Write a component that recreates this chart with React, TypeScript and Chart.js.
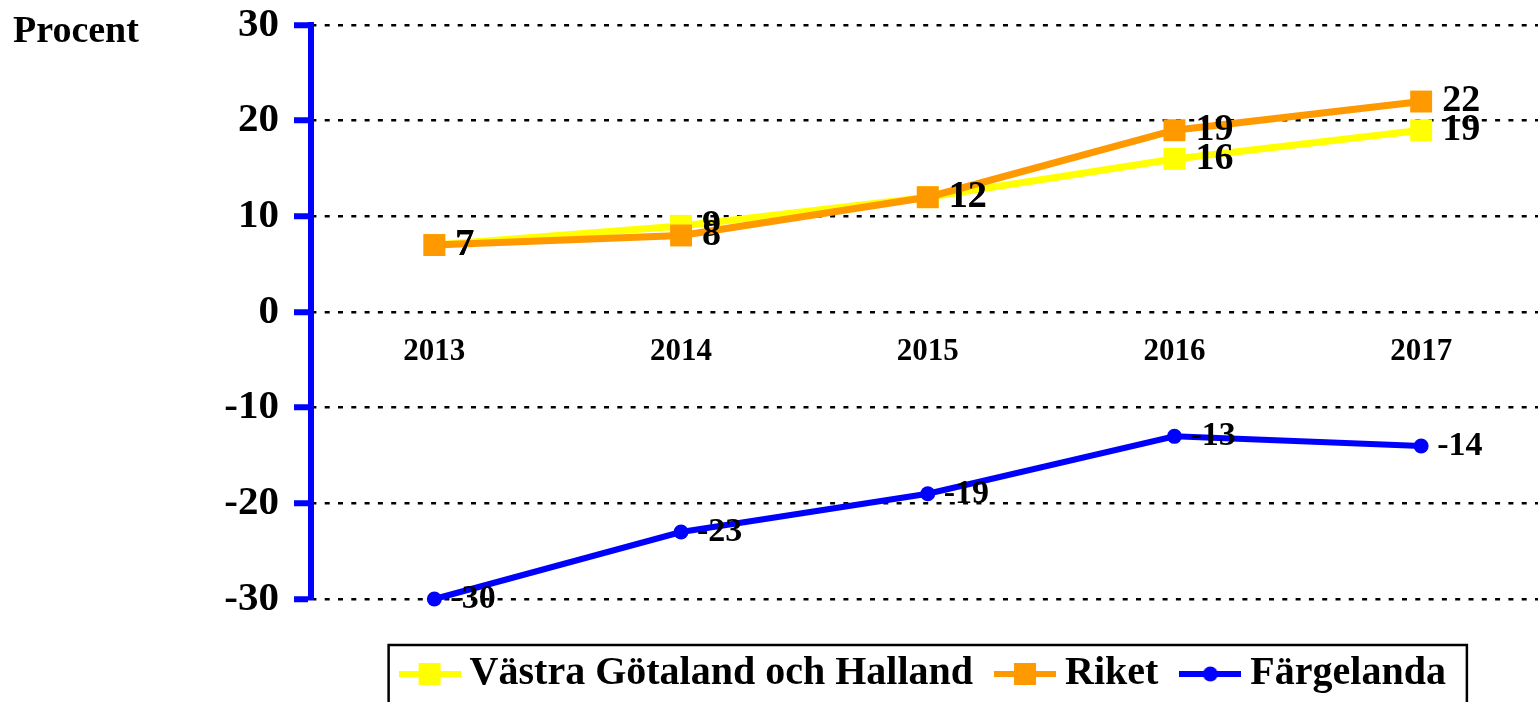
import React, { useEffect, useRef } from "react";
import { Chart, registerables } from "chart.js";

Chart.register(...registerables);

// ---- data ----
const years = ["2013", "2014", "2015", "2016", "2017"];
const vastraGotalandHalland = [7, 9, 12, 16, 19];
const riket = [7, 8, 12, 19, 22];
const fargelanda = [-30, -23, -19, -13, -14];
const seriesNames = ["Västra Götaland och Halland", "Riket", "Färgelanda"];
const yMin = -30;
const yMax = 30;
const yStep = 10;
const axisTitle = "Procent";

// ---- styles ----
const SERIF = '"Liberation Serif", "Times New Roman", Times, serif';
const YELLOW = "#FFFF00";
const ORANGE = "#FF9900";
const BLUE = "#0000FF";
const seriesColors = [YELLOW, ORANGE, BLUE];
const seriesMarkers: ("rect" | "circle")[] = ["rect", "rect", "circle"];
const labelStyles = [
  { size: 38, dx: 21 },
  { size: 38, dx: 21 },
  { size: 34, dx: 16 },
];

const CANVAS_W = 1560;
const CANVAS_H = 708;

function makeLegendSample(color: string, marker: "rect" | "circle") {
  const c = document.createElement("canvas");
  c.width = 62;
  c.height = 24;
  const ctx = c.getContext("2d")!;
  ctx.fillStyle = color;
  ctx.fillRect(0, 9, 62, 6);
  if (marker === "rect") {
    ctx.fillRect(20, 1, 22, 22);
  } else {
    ctx.beginPath();
    ctx.arc(31, 12, 7.5, 0, Math.PI * 2);
    ctx.fill();
  }
  return c;
}

const valueLabelPlugin = {
  id: "valueLabels",
  afterDatasetDraw(chart: any, args: any) {
    const ds = chart.data.datasets[args.index];
    const st = labelStyles[args.index];
    if (!st) return;
    const ctx = chart.ctx;
    ctx.save();
    ctx.font = `bold ${st.size}px ${SERIF}`;
    ctx.fillStyle = "#000000";
    ctx.textAlign = "left";
    ctx.textBaseline = "middle";
    args.meta.data.forEach((pt: any, i: number) => {
      ctx.fillText(String(ds.data[i]), pt.x + st.dx, pt.y);
    });
    ctx.restore();
  },
};

const frameAndTitlePlugin = {
  id: "frameAndTitle",
  afterDraw(chart: any) {
    const ctx = chart.ctx;
    ctx.save();
    // axis title "Procent"
    ctx.font = `bold 38px ${SERIF}`;
    ctx.fillStyle = "#000000";
    ctx.textAlign = "left";
    ctx.textBaseline = "alphabetic";
    ctx.fillText(axisTitle, 13, 42);
    // legend frame
    const lg = chart.legend;
    if (lg && lg.legendHitBoxes && lg.legendHitBoxes.length) {
      const hb = lg.legendHitBoxes;
      const left = Math.min(...hb.map((h: any) => h.left)) - 21;
      const right = Math.max(...hb.map((h: any) => h.left + h.width)) + 21;
      const top = Math.min(...hb.map((h: any) => h.top)) - 9;
      const bottom = Math.max(...hb.map((h: any) => h.top + h.height)) + 14;
      ctx.lineWidth = 2.5;
      ctx.strokeStyle = "#000000";
      ctx.strokeRect(left, top, right - left, bottom - top);
    }
    ctx.restore();
  },
};

export default function App() {
  const canvasRef = useRef<HTMLCanvasElement | null>(null);

  useEffect(() => {
    if (!canvasRef.current) return;
    const samples = seriesColors.map((c, i) => makeLegendSample(c, seriesMarkers[i]));
    const values = [vastraGotalandHalland, riket, fargelanda];

    const datasets = values.map((data, i) => ({
      label: seriesNames[i],
      data,
      borderColor: seriesColors[i],
      backgroundColor: seriesColors[i],
      borderWidth: i === 2 ? 6 : 7,
      pointStyle: seriesMarkers[i],
      pointRadius: seriesMarkers[i] === "rect" ? 15.5 : 7.5,
      pointBackgroundColor: seriesColors[i],
      pointBorderColor: seriesColors[i],
      pointBorderWidth: 0,
      tension: 0,
      clip: false as any,
      order: 2 - i,
    }));

    const chart = new Chart(canvasRef.current, {
      type: "line",
      data: { labels: years, datasets },
      plugins: [valueLabelPlugin, frameAndTitlePlugin],
      options: {
        responsive: false,
        animation: false,
        events: [],
        layout: { padding: { top: 25, right: CANVAS_W - 1546, bottom: 4, left: 0 } },
        scales: {
          x: {
            type: "category",
            offset: true,
            position: { y: 0 } as any,
            grid: { display: false, drawTicks: false },
            border: { display: false },
            ticks: {
              color: "#000000",
              padding: 21,
              maxRotation: 0,
              font: { family: SERIF, size: 31, weight: "bold" },
            },
          },
          y: {
            min: yMin,
            max: yMax,
            afterFit: (scale: any) => {
              scale.width = 311;
              scale.paddingTop = 0;
              scale.paddingBottom = 0;
            },
            ticks: {
              stepSize: yStep,
              color: "#000000",
              padding: 15,
              font: { family: SERIF, size: 41, weight: "bold" },
            },
            grid: {
              color: "#000000",
              lineWidth: 2.5,
              drawTicks: true,
              tickLength: 17,
              tickWidth: 6,
              tickColor: BLUE,
              tickBorderDash: [],
            },
            border: {
              display: true,
              color: BLUE,
              width: 6,
              dash: [5, 8.3],
              dashOffset: 2.6,
            },
          },
        },
        plugins: {
          tooltip: { enabled: false },
          legend: {
            display: true,
            position: "bottom",
            fullSize: false,
            align: "center",
            title: {
              display: true,
              text: "",
              font: { size: 1, lineHeight: 1 },
              padding: { top: 0, bottom: 22 },
            },
            labels: {
              usePointStyle: true,
              pointStyleWidth: 40,
              padding: 32,
              color: "#000000",
              font: { family: SERIF, size: 40, weight: "bold" },
              generateLabels: () =>
                seriesNames.map((name, i) => ({
                  text: name,
                  datasetIndex: i,
                  pointStyle: samples[i],
                  fillStyle: seriesColors[i],
                  strokeStyle: seriesColors[i],
                  lineWidth: 0,
                  hidden: false,
                  fontColor: "#000000",
                })) as any,
            },
          },
        },
      } as any,
    });

    return () => chart.destroy();
  }, []);

  return (
    <div
      style={{
        position: "fixed",
        left: 0,
        top: 0,
        width: 1538,
        height: 702,
        overflow: "hidden",
        background: "#ffffff",
      }}
    >
      <canvas
        ref={canvasRef}
        width={CANVAS_W}
        height={CANVAS_H}
        style={{ display: "block", width: CANVAS_W, height: CANVAS_H }}
      />
    </div>
  );
}
